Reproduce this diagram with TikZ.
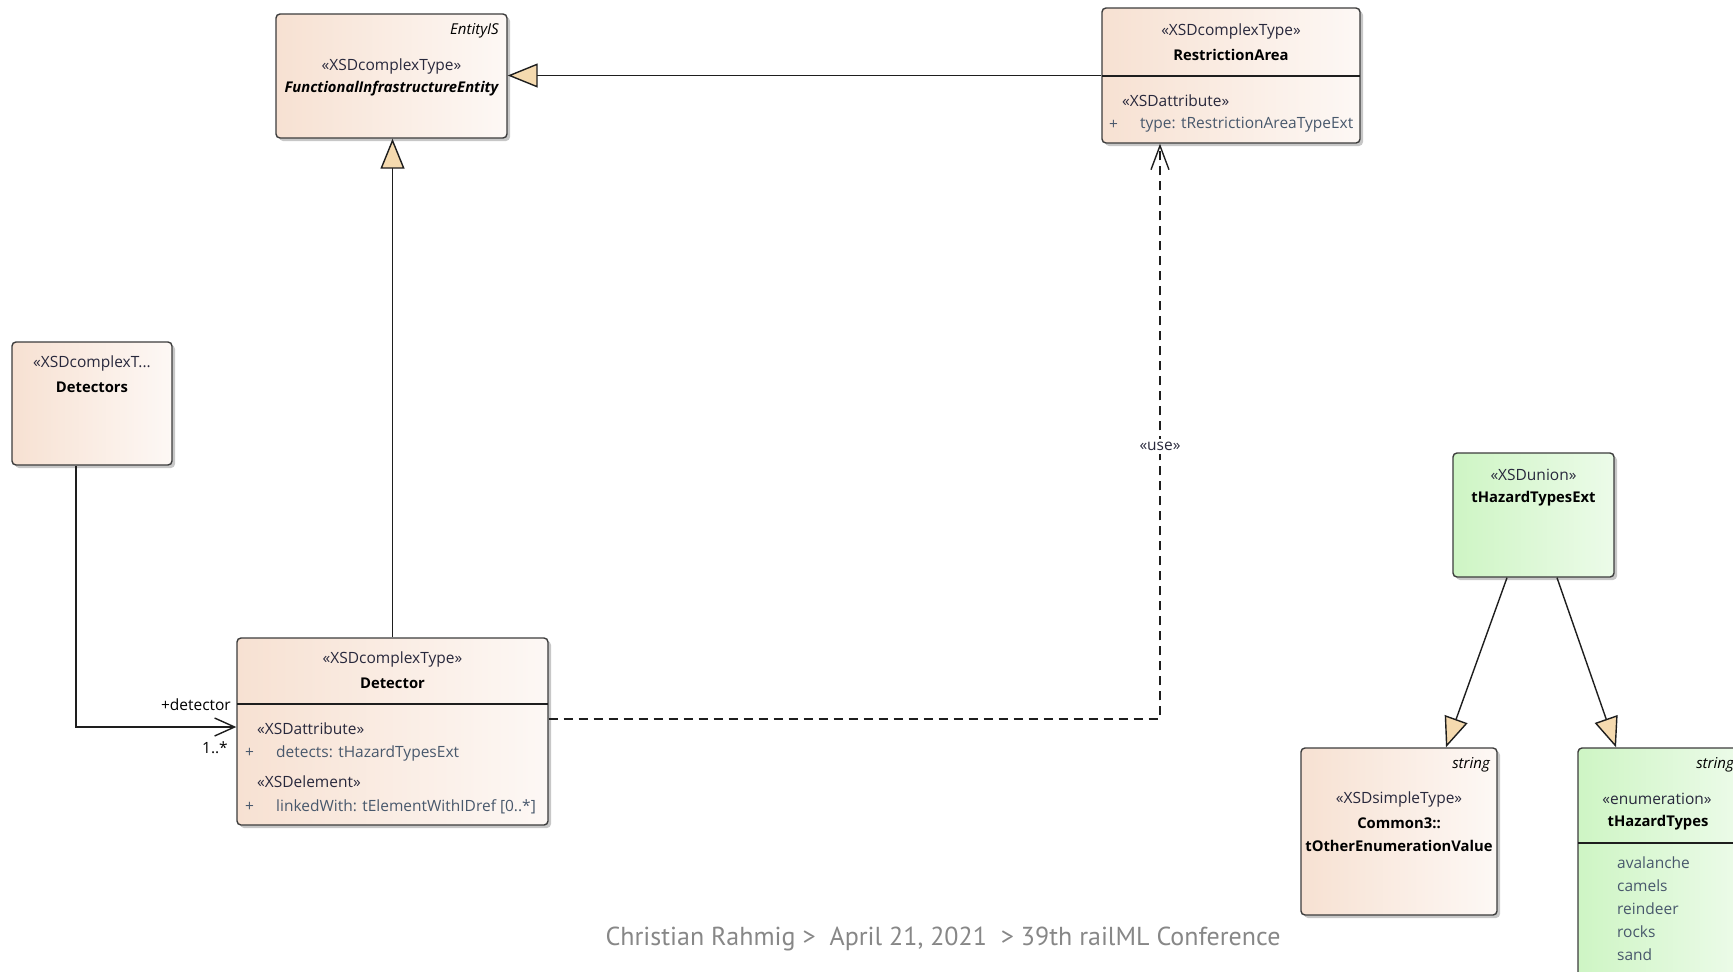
\documentclass[tikz,border=0pt]{standalone}
\usepackage{fontspec}
\setmainfont{Open Sans}
\newfontfamily\footfont{PT Sans}
\usetikzlibrary{arrows.meta,shadows}

\definecolor{peachL}{RGB}{247,225,210}
\definecolor{peachR}{RGB}{253,248,245}
\definecolor{greenL}{RGB}{206,245,196}
\definecolor{greenR}{RGB}{236,251,233}
\definecolor{edgecol}{RGB}{60,60,60}
\definecolor{linecol}{RGB}{30,30,30}
\definecolor{attrcol}{RGB}{72,88,108}
\definecolor{stereocol}{RGB}{40,40,60}
\definecolor{genfill}{RGB}{245,218,175}
\definecolor{footcol}{RGB}{135,135,135}

\tikzset{
  classbox/.style={draw=edgecol, line width=1.4pt, rounded corners=4pt, inner sep=0pt,
    drop shadow={shadow xshift=3pt, shadow yshift=-3pt, opacity=0.22, fill=black},
    left color=peachL, right color=peachR},
  unionbox/.style={classbox, left color=greenL, right color=greenR},
  umlfont/.style={font=\fontsize{15.5}{18}\selectfont},
  stereotxt/.style={umlfont, text=stereocol, inner sep=0pt},
  nametxt/.style={font=\fontsize{14.8}{18}\selectfont\bfseries, text=black, inner sep=0pt},
  attrtxt/.style={umlfont, text=attrcol, anchor=west, inner sep=0pt},
  tagtxt/.style={font=\fontsize{15}{18}\selectfont\itshape, text=black, anchor=east, inner sep=0pt},
  divider/.style={draw=linecol, line width=1.4pt},
  conn/.style={draw=linecol, line width=1.4pt},
  genarrow/.style={conn, -{Triangle[length=30pt,width=24pt,fill=genfill]}},
  openarrow/.style={conn, -{Straight Barb[length=20pt,width=18pt]}},
  usearrow/.style={conn, dash pattern=on 9pt off 6pt, -{Straight Barb[length=24pt,width=18pt]}},
}

\begin{document}
\begin{tikzpicture}[x=1pt,y=-1pt]
\useasboundingbox (0,0) rectangle (1733,972);
\clip (0,0) rectangle (1733,972);

% ---- class boxes ----
\node[classbox, minimum width=231pt, minimum height=124pt] (fie) at (391.5,76) {};
\node[classbox, minimum width=258pt, minimum height=135pt] (ra) at (1231,75.5) {};
\node[classbox, minimum width=160pt, minimum height=123pt] (dets) at (92,403.5) {};
\node[classbox, minimum width=311pt, minimum height=187pt] (det) at (392.5,731.5) {};
\node[unionbox, minimum width=161pt, minimum height=124pt] (hte) at (1533.5,515) {};
\node[classbox, minimum width=196pt, minimum height=167pt] (toev) at (1399,831.5) {};
\node[unionbox, minimum width=162pt, minimum height=252pt] (tht) at (1659,874) {};

% compartments
\draw[divider] (1102,76) -- (1360,76);
\draw[divider] (237,704) -- (548,704);
\draw[divider] (1578,843) -- (1740,843);

% ---- FunctionalInfrastructureEntity ----
\node[tagtxt] (fie-tag) at (499,31) {EntityIS};
\node[stereotxt] (fie-st) at (391.5,66) {«XSDcomplexType»};
\node[nametxt, font=\fontsize{14.8}{18}\selectfont\bfseries\itshape] (fie-name) at (391.5,89) {FunctionalInfrastructureEntity};

% ---- RestrictionArea ----
\node[stereotxt] (ra-st) at (1231,31) {«XSDcomplexType»};
\node[nametxt] (ra-name) at (1231,55) {RestrictionArea};
\node[stereotxt, anchor=west] (ra-ast) at (1122,101) {«XSDattribute»};
\node[attrtxt] (ra-plus) at (1109,125) {+};
\node[attrtxt] (ra-a1) at (1140,125) {type: tRestrictionAreaTypeExt};

% ---- Detectors ----
\node[stereotxt] (dets-st) at (92,363) {«XSDcomplexT...};
\node[nametxt] (dets-name) at (92,387) {Detectors};

% ---- Detector ----
\node[stereotxt] (det-st) at (392.5,659) {«XSDcomplexType»};
\node[nametxt] (det-name) at (392.5,683) {Detector};
\node[stereotxt, anchor=west] (det-ast) at (257,729) {«XSDattribute»};
\node[attrtxt] (det-p1) at (245,753) {+};
\node[attrtxt] (det-a1) at (276,753) {detects: tHazardTypesExt};
\node[stereotxt, anchor=west] (det-est) at (257,782) {«XSDelement»};
\node[attrtxt] (det-p2) at (245,807) {+};
\node[attrtxt] (det-e1) at (276,807) {linkedWith: tElementWithIDref [0..*]};

% ---- tHazardTypesExt ----
\node[stereotxt] (hte-st) at (1533.5,475) {«XSDunion»};
\node[nametxt] (hte-name) at (1533.5,499) {tHazardTypesExt};

% ---- tOtherEnumerationValue ----
\node[tagtxt] (toev-tag) at (1490,765) {string};
\node[stereotxt] (toev-st) at (1399,799) {«XSDsimpleType»};
\node[nametxt] (toev-ns) at (1399,823) {Common3::};
\node[nametxt] (toev-name) at (1399,846) {tOtherEnumerationValue};

% ---- tHazardTypes ----
\node[tagtxt] (tht-tag) at (1734,765) {string};
\node[stereotxt] (tht-st) at (1657,799) {«enumeration»};
\node[nametxt] (tht-name) at (1658,823) {tHazardTypes};
\node[attrtxt] (tht-l1) at (1617,863) {avalanche};
\node[attrtxt] (tht-l2) at (1617,886) {camels};
\node[attrtxt] (tht-l3) at (1617,909) {reindeer};
\node[attrtxt] (tht-l4) at (1617,932) {rocks};
\node[attrtxt] (tht-l5) at (1617,955) {sand};

% ---- connectors ----
\draw[genarrow] (ra.west) -- (ra.west -| fie.east);
\draw[genarrow] (det.north) -- (det.north |- fie.south);
\draw[usearrow] ([yshift=12.5pt]det.east) -| ([xshift=-71pt]ra.south)
  node[pos=0.737, stereotxt, fill=white, inner sep=3pt] (use-lbl) {«use»};
\draw[openarrow] ([xshift=-16pt]dets.south) |- ([yshift=4.5pt]det.west);
\node[umlfont, text=black, anchor=east, inner sep=0pt] (role) at (231,705) {+detector};
\node[umlfont, text=black, anchor=east, inner sep=0pt] (mult) at (228,748) {1..*};
\draw[genarrow] ([xshift=-26.5pt]hte.south) -- ([xshift=47pt]toev.north);
\draw[genarrow] ([xshift=23.5pt]hte.south) -- ([xshift=-43pt]tht.north);

% ---- footer ----
\node[font=\footfont\fontsize{26}{30}\selectfont, text=footcol, inner sep=0pt] (footer) at (943,939)
  {Christian Rahmig >\ \ April 21, 2021\ \ > 39th railML Conference};
\end{tikzpicture}
\end{document}
